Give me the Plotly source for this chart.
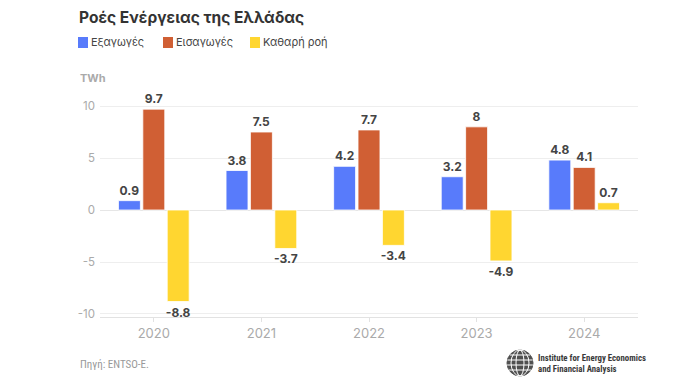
import math
import plotly.graph_objects as go

years = ["2020", "2021", "2022", "2023", "2024"]
exports = [0.9, 3.8, 4.2, 3.2, 4.8]
imports = [9.7, 7.5, 7.7, 8, 4.1]
net_flow = [-8.8, -3.7, -3.4, -4.9, 0.7]
series_names = ["Εξαγωγές", "Εισαγωγές", "Καθαρή ροή"]
series_colors = ["#587BFB", "#D05F34", "#FFD630"]
y_ticks = [-10, -5, 0, 5, 10]
y_tick_text = ["-10", "-5", "0", "5", "10"]

# page has an 8px body margin; figure sized to fill the remaining window
OFF = 8
W, H = 700 - OFF, 390 - OFF
PX0, PX1, PY0, PY1 = 100, 638, 100, 317  # plot area in window pixels
L, R, T, B = PX0 - OFF, 700 - PX1, PY0 - OFF, 390 - PY1


def px(x):
    return (x - PX0) / (PX1 - PX0)


def py(y):
    return (PY1 - y) / (PY1 - PY0)


FONT = "Inter, Roboto, 'Noto Sans', sans-serif"
NARROW = "'Liberation Sans Narrow', 'Roboto Condensed', Roboto, sans-serif"

fig = go.Figure()
for name, vals, col in zip(series_names, [exports, imports, net_flow], series_colors):
    fig.add_trace(go.Bar(
        x=years, y=vals, name=name,
        marker=dict(color=col, line=dict(color="rgba(255,255,255,0.8)", width=1)),
        text=[f"<b>{v}</b>" for v in vals], texttemplate="%{text}", textposition="outside",
        textfont=dict(size=12, color="#444", family=FONT),
        constraintext="none",
        cliponaxis=False, showlegend=False,
    ))

ann = []
shapes = []
ann.append(dict(text="<b>Ροές Ενέργειας της Ελλάδας</b>", x=px(77), y=py(17), xref="paper", yref="paper",
                xanchor="left", yanchor="middle", showarrow=False,
                font=dict(size=15.5, color="#333", family=FONT)))
leg_x = [78, 163, 250]
for name, col, lx in zip(series_names, series_colors, leg_x):
    shapes.append(dict(type="rect", xref="paper", yref="paper",
                       x0=px(lx), x1=px(lx + 10), y0=py(48), y1=py(37),
                       fillcolor=col, line=dict(width=0)))
    ann.append(dict(text=name, x=px(lx + 11), y=py(42.5), xref="paper", yref="paper",
                    xanchor="left", yanchor="middle", showarrow=False,
                    font=dict(size=11, color="#444", family=FONT)))
ann.append(dict(text="<b>TWh</b>", x=px(78), y=py(78), xref="paper", yref="paper",
                xanchor="left", yanchor="middle", showarrow=False,
                font=dict(size=11, color="#aaa", family=FONT)))
ann.append(dict(text="Πηγή: ENTSO-E.", x=px(78), y=py(364), xref="paper", yref="paper",
                xanchor="left", yanchor="middle", showarrow=False,
                font=dict(size=11, color="#999", family=NARROW)))
ann.append(dict(text="<b>Institute for Energy Economics<br>and Financial Analysis</b>",
                x=px(536), y=py(363), xref="paper", yref="paper",
                xanchor="left", yanchor="middle", align="left", showarrow=False,
                font=dict(size=8.8, color="#3a3a3a", family=NARROW)))
cx, cy, r = 520, 363, 13
shapes.append(dict(type="circle", xref="paper", yref="paper",
                   x0=px(cx - r), x1=px(cx + r), y0=py(cy + r), y1=py(cy - r),
                   fillcolor="#505050", line=dict(color="#505050", width=1)))
for k in [4, 9]:
    shapes.append(dict(type="circle", xref="paper", yref="paper",
                       x0=px(cx - k), x1=px(cx + k), y0=py(cy + r), y1=py(cy - r),
                       line=dict(color="white", width=1)))
for dy in [-8, -3, 2, 7]:
    half = math.sqrt(max(r * r - dy * dy, 0))
    shapes.append(dict(type="line", xref="paper", yref="paper",
                       x0=px(cx - half), x1=px(cx + half), y0=py(cy + dy), y1=py(cy + dy),
                       line=dict(color="white", width=1)))

fig.update_layout(
    width=W, height=H,
    margin=dict(l=L, r=R, t=T, b=B, pad=0),
    paper_bgcolor="white", plot_bgcolor="white",
    barmode="group", bargap=0.32, bargroupgap=0.1,
    font=dict(family=FONT),
    annotations=ann, shapes=shapes,
    showlegend=False,
)
fig.update_xaxes(
    showgrid=False, showline=True, linecolor="#e2e2e2", linewidth=1,
    ticks="outside", ticklen=4, tickcolor="#e2e2e2",
    tickfont=dict(size=13, color="#aaa", family=FONT),
)
fig.update_yaxes(
    range=[-10.29, 10.58], tickvals=y_ticks, ticktext=y_tick_text,
    showgrid=True, gridcolor="#eeeeee", gridwidth=1,
    zeroline=True, zerolinecolor="#e6e6e6", zerolinewidth=1,
    tickfont=dict(size=11.5, color="#aaa", family=FONT),
    ticks="", showline=False, ticklabelstandoff=4,
)

fig.write_html("out.html")
